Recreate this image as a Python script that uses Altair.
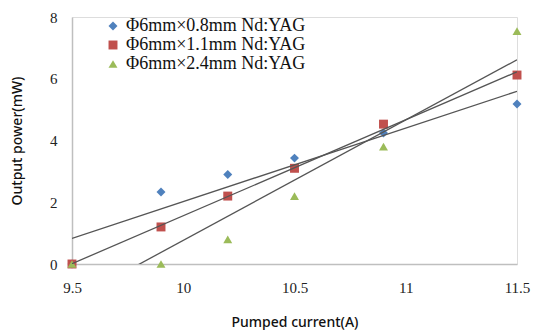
import altair as alt
import pandas as pd

current = [9.5, 9.9, 10.2, 10.5, 10.9, 11.5]
series_names = ["Φ6mm×0.8mm Nd:YAG", "Φ6mm×1.1mm Nd:YAG", "Φ6mm×2.4mm Nd:YAG"]
power_08 = [0.0, 2.33, 2.9, 3.43, 4.24, 5.18]
power_11 = [0.0, 1.2, 2.2, 3.1, 4.53, 6.12]
power_24 = [0.0, 0.0, 0.8, 2.2, 3.8, 7.54]
colors = ["#4F81BD", "#C0504D", "#9BBB59"]
shapes = ["diamond", "square", "triangle-up"]

rows = []
for name, vals in zip(series_names, [power_08, power_11, power_24]):
    for c, v in zip(current, vals):
        rows.append({"current": c, "power": v, "series": name})
df = pd.DataFrame(rows)

SERIF = "Liberation Serif"

xscale = alt.Scale(domain=[9.5, 11.5], nice=False, zero=False)
yscale = alt.Scale(domain=[0, 8], nice=False)

xaxis = alt.Axis(values=[9.5, 10, 10.5, 11, 11.5], title="Pumped current(A)", labelPadding=16,
                 titlePadding=20, labelFlush=False, labelFont=SERIF,
                 labelExpr="datum.value == 10 || datum.value == 11 ? format(datum.value, 'd') : format(datum.value, '.1f')")
yaxis = alt.Axis(values=[0, 2, 4, 6, 8], title="Output power(mW)", labelPadding=15, titlePadding=25,
                 labelFont=SERIF)

points = alt.Chart(df).mark_point(filled=True, opacity=1, size=80, clip=False).encode(
    x=alt.X("current:Q", scale=xscale, axis=xaxis),
    y=alt.Y("power:Q", scale=yscale, axis=yaxis),
    color=alt.Color("series:N", scale=alt.Scale(domain=series_names, range=colors),
                    legend=alt.Legend(title=None, orient="none", legendX=32, legendY=0,
                                      labelFont=SERIF, labelFontSize=18, labelColor="#111111",
                                      labelLimit=400,
                                      symbolSize=80, rowPadding=1, symbolStrokeWidth=0)),
    shape=alt.Shape("series:N", scale=alt.Scale(domain=series_names, range=shapes), legend=None),
    order=alt.Order("series:N"),
)

lines = alt.Chart(df).transform_regression(
    "current", "power", groupby=["series"], extent=[9.5, 11.5]
).mark_line(color="#555555", strokeWidth=1.3, clip=True).encode(
    x=alt.X("current:Q", scale=xscale, axis=xaxis),
    y=alt.Y("power:Q", scale=yscale, axis=yaxis),
    detail="series:N",
)

chart = alt.layer(points, lines).properties(
    width=445, height=247,
    autosize=alt.AutoSizeParams(type="none"),
    padding={"left": 72, "top": 17, "right": 18, "bottom": 70},
).configure_view(stroke=None).configure(background="white").configure_axis(
    grid=False, ticks=False, domainColor="#BFBFBF", domainWidth=1.5,
    labelFont=SERIF, labelFontSize=15, labelColor="#222222",
    titleFont="Noto Sans", titleFontSize=14, titleFontWeight=500, titleColor="#111111",
)

chart.save("out.html", embed_options={"renderer": "svg", "actions": False})
